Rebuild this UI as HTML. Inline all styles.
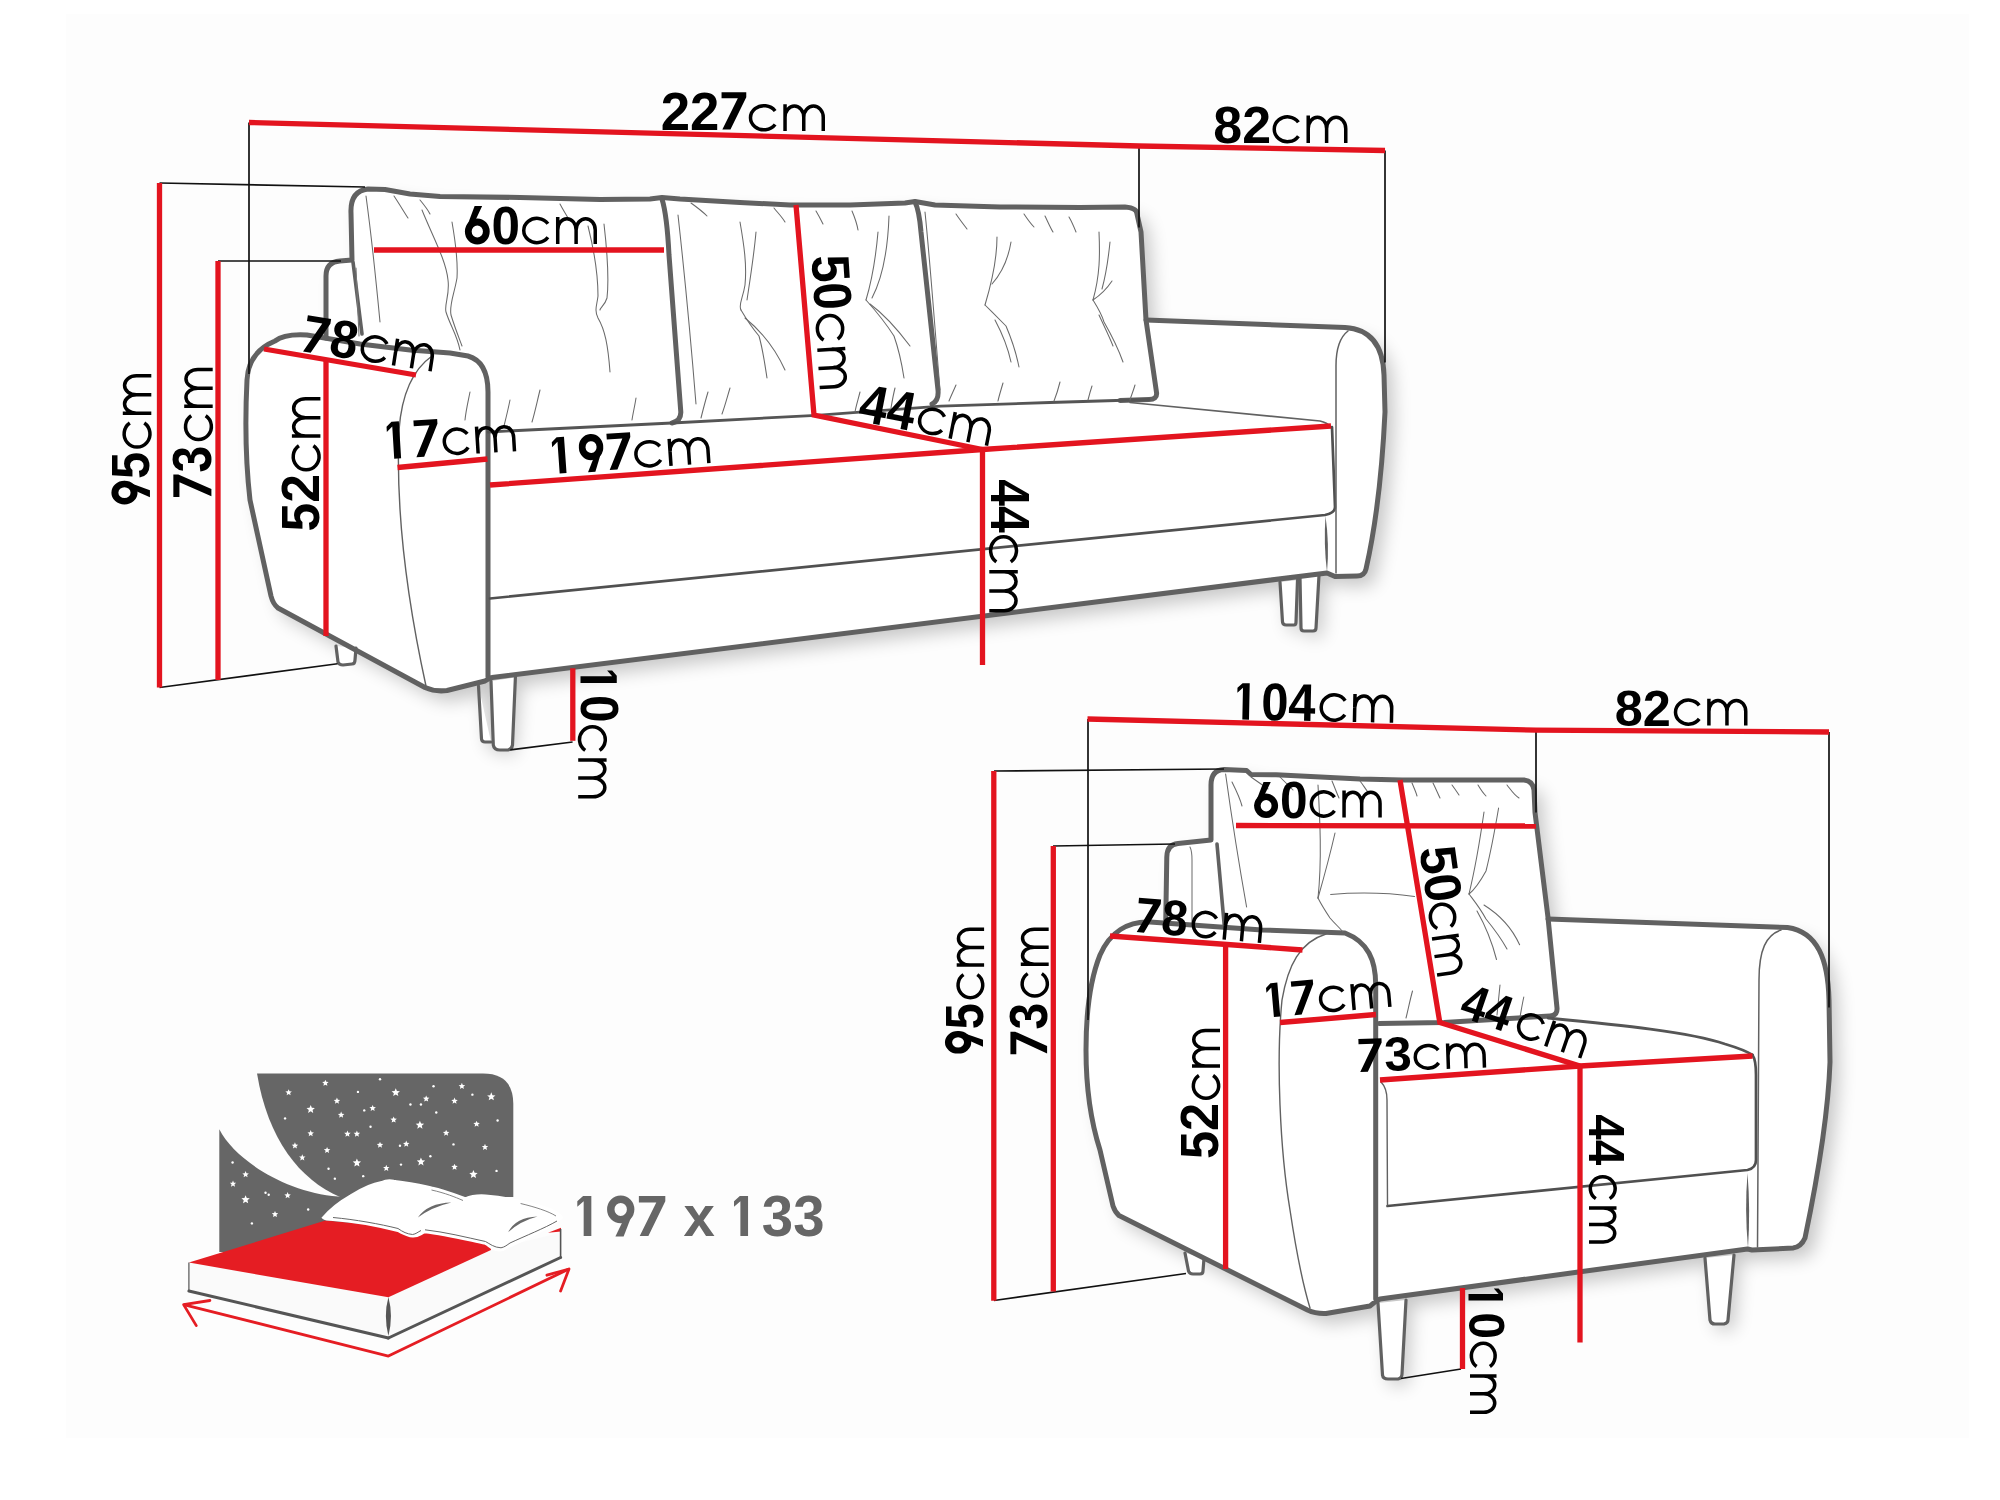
<!DOCTYPE html>
<html><head><meta charset="utf-8"><title>Sofa dimensions</title>
<style>
html,body{margin:0;padding:0;background:#fff;}
body{width:2000px;height:1500px;overflow:hidden;}
svg{display:block;font-family:"Liberation Sans",sans-serif;}
</style></head>
<body>
<svg width="2000" height="1500" viewBox="0 0 2000 1500">
<defs>
<filter id="sh" x="-10%" y="-10%" width="130%" height="130%">
<feGaussianBlur stdDeviation="9"/>
</filter>
</defs>
<rect x="0" y="0" width="2000" height="1500" fill="#fff"/>
<rect x="66" y="14" width="1903" height="1424" fill="#fdfdfd"/>
<g filter="url(#sh)" opacity="0.21"><path d="M275,341 C258,348 248,360 247,380 C245,420 246,465 250,500 L271,596 Q273,604 278,608 L425,687.5 Q435,692 447,690.5 L485,681 L492,677.5 L1327,573 L1335,576.5 L1357,576 Q1364.5,576 1366,569 C1376,525 1382,475 1385,412 L1384,375 C1383,345 1370,329 1345,327.5 L1146,320 L1141,232 L1137,214 Q1137,208 1125,207 L1000,207 L935,205 L915,201.5 L850,205 L790,205 L740,202.5 L680,199 L662,197.5 L600,199.5 L440,196.5 L410,194 L385,189.5 L368,189 Q350,191 351,213 L352,260 L340,261 Q326,262 326,276 L326,338 L307,335 Z" transform="translate(9 10)" fill="#000"/><path d="M1280,582 L1283,625 L1296,625 L1297,580 Z M1300,577 L1301,631 L1316,631 L1319,575 Z M478,686 L482,742 L508,750 L515,677 Z" transform="translate(6 6)" fill="#000"/></g>
<path d="M275,341 C258,348 248,360 247,380 C245,420 246,465 250,500 L271,596 Q273,604 278,608 L425,687.5 Q435,692 447,690.5 L485,681 L492,677.5 L1327,573 L1335,576.5 L1357,576 Q1364.5,576 1366,569 C1376,525 1382,475 1385,412 L1384,375 C1383,345 1370,329 1345,327.5 L1146,320 L1141,232 L1137,214 Q1137,208 1125,207 L1000,207 L935,205 L915,201.5 L850,205 L790,205 L740,202.5 L680,199 L662,197.5 L600,199.5 L440,196.5 L410,194 L385,189.5 L368,189 Q350,191 351,213 L352,260 L340,261 Q326,262 326,276 L326,338 L307,335 Z" fill="#fff" stroke="none"/>
<path d="M336,646 L338,662 Q339,665 343,665 L352,664 Q355,664 355,660 L356,648" fill="#fff" stroke="#616161" stroke-width="3.2" stroke-linecap="round" stroke-linejoin="round" />
<path d="M478.5,686 L481.5,739 Q482,742 485,742 L491,742" fill="#fff" stroke="#616161" stroke-width="3.2" stroke-linecap="round" stroke-linejoin="round" />
<path d="M491,681 L493.3,745 Q494,750 500,750 L508,750 Q512,749 512.5,745 L515.4,677.4" fill="#fff" stroke="#616161" stroke-width="3.2" stroke-linecap="round" stroke-linejoin="round" />
<path d="M1280,582 L1282.5,622 Q1283,625 1286,625 L1294,625 Q1296,625 1296,622 L1297.5,580" fill="#fff" stroke="#616161" stroke-width="3.2" stroke-linecap="round" stroke-linejoin="round" />
<path d="M1300,577.5 L1301,628 Q1301,631 1304,631 L1313,631 Q1316,631 1316,628 L1319,575" fill="#fff" stroke="#616161" stroke-width="3.2" stroke-linecap="round" stroke-linejoin="round" />
<path d="M488,677 L488,392 C488,372 482,360 468,356 L450,353 L410,350 L360,344 L307,335 C290,334 280,337 275,341 C258,348 248,360 247,380 C245,420 246,465 250,500 L271,596 Q273,604 278,608 L425,687.5 Q435,692 447,690.5 L485,681 Q488,679 492,677.5 L1327,573 L1335,576.5 L1357,576 Q1364.5,576 1366,569 C1376,525 1382,475 1385,412 L1384,375 C1383,345 1370,329 1345,327.5 L1146,320" fill="none" stroke="#616161" stroke-width="5" stroke-linecap="round" stroke-linejoin="round" />
<path d="M326,338 L326,276 Q326,262 340,261 L352,260 L351,213 Q350,191 368,189 L385,189.5 L410,194 L440,196.5 L520,197.5 L600,199.5 L650,199 L662,197.5 L680,199 L740,202.5 L790,205 L850,205 L905,203 L915,201.5 L935,205 L1000,207 L1080,207.5 L1125,207 Q1137,208 1137,214 L1141,232 L1146,320 L1156.6,393 Q1157,399.5 1149,399.5 L1120,400.5" fill="none" stroke="#616161" stroke-width="5" stroke-linecap="round" stroke-linejoin="round" />
<path d="M662,199 C666,212 668,235 669,255 L680.8,412 Q681,421 672,423" fill="none" stroke="#616161" stroke-width="5" stroke-linecap="round" stroke-linejoin="round" />
<path d="M915,202 C919,210 920,220 921,232 L938,390 Q939,401 932,404" fill="none" stroke="#616161" stroke-width="5" stroke-linecap="round" stroke-linejoin="round" />
<path d="M353,262 L362,334" fill="none" stroke="#616161" stroke-width="3.6" stroke-linecap="round" stroke-linejoin="round" />
<path d="M356,268 L359,336" fill="none" stroke="#777" stroke-width="1.1" stroke-linecap="round" stroke-linejoin="round" />
<path d="M488,432 L672,423 L816,415.3 L940.8,406.2 L1050,402.5 L1149,399.5" fill="none" stroke="#555" stroke-width="2.8" stroke-linecap="round" stroke-linejoin="round" />
<path d="M1130,402.5 L1320,421 Q1327,422.5 1331,427" fill="none" stroke="#616161" stroke-width="1.6" stroke-linecap="round" stroke-linejoin="round" />
<path d="M1332,427 L1335,507 Q1335,513 1325,515 L490,598.5" fill="none" stroke="#505050" stroke-width="2.7" stroke-linecap="round" stroke-linejoin="round" />
<path d="M1325.5,516 Q1329.5,544 1327,572 Q1323.5,544 1325.5,516 Z" fill="#616161"/>
<path d="M1348,331 C1340,337 1336,350 1336,366 L1336,573" fill="none" stroke="#616161" stroke-width="1.5" stroke-linecap="round" stroke-linejoin="round" />
<path d="M432,356 C415,368 402,390 399,430 C396,500 405,590 426,686" fill="none" stroke="#616161" stroke-width="1.4" stroke-linecap="round" stroke-linejoin="round" />
<path d="M366,196 C372,240 376,280 380,322" fill="none" stroke="#6a6a6a" stroke-width="1.05" stroke-linecap="round" stroke-linejoin="round" />
<path d="M394,196 C400,205 404,212 408,218" fill="none" stroke="#6a6a6a" stroke-width="1.05" stroke-linecap="round" stroke-linejoin="round" />
<path d="M422,210 C432,235 446,260 448,280 C450,295 444,305 446,312 C450,325 457,335 460,350" fill="none" stroke="#6a6a6a" stroke-width="1.05" stroke-linecap="round" stroke-linejoin="round" />
<path d="M452,222 C456,245 458,262 457,278 C454,295 449,305 451,315 C455,328 459,338 462,346" fill="none" stroke="#6a6a6a" stroke-width="1.05" stroke-linecap="round" stroke-linejoin="round" />
<path d="M560,204 C563,210 566,214 568,218" fill="none" stroke="#6a6a6a" stroke-width="1.05" stroke-linecap="round" stroke-linejoin="round" />
<path d="M588,226 C594,250 598,275 598,296 C597,305 594,310 598,318 C605,330 608,345 610,372" fill="none" stroke="#6a6a6a" stroke-width="1.05" stroke-linecap="round" stroke-linejoin="round" />
<path d="M604,224 C607,250 609,280 607,298 C605,305 600,308 600,310" fill="none" stroke="#6a6a6a" stroke-width="1.05" stroke-linecap="round" stroke-linejoin="round" />
<path d="M540,390 C537,402 535,412 532,422" fill="none" stroke="#6a6a6a" stroke-width="1.05" stroke-linecap="round" stroke-linejoin="round" />
<path d="M510,400 C508,410 506,418 504,426" fill="none" stroke="#6a6a6a" stroke-width="1.05" stroke-linecap="round" stroke-linejoin="round" />
<path d="M636,398 C635,405 633,413 632,420" fill="none" stroke="#6a6a6a" stroke-width="1.05" stroke-linecap="round" stroke-linejoin="round" />
<path d="M470,392 C468,402 466,410 465,420" fill="none" stroke="#6a6a6a" stroke-width="1.05" stroke-linecap="round" stroke-linejoin="round" />
<path d="M420,200 C425,206 428,210 430,214" fill="none" stroke="#6a6a6a" stroke-width="1.05" stroke-linecap="round" stroke-linejoin="round" />
<path d="M691,203 C698,208 703,212 707,216" fill="none" stroke="#6a6a6a" stroke-width="1.05" stroke-linecap="round" stroke-linejoin="round" />
<path d="M774,208 C778,213 782,217 785,222" fill="none" stroke="#6a6a6a" stroke-width="1.05" stroke-linecap="round" stroke-linejoin="round" />
<path d="M816,211 C819,216 821,220 823,224" fill="none" stroke="#6a6a6a" stroke-width="1.05" stroke-linecap="round" stroke-linejoin="round" />
<path d="M852,211 C855,218 857,224 858,230" fill="none" stroke="#6a6a6a" stroke-width="1.05" stroke-linecap="round" stroke-linejoin="round" />
<path d="M740,222 C744,245 747,265 745,285 C743,298 738,305 741,310" fill="none" stroke="#6a6a6a" stroke-width="1.05" stroke-linecap="round" stroke-linejoin="round" />
<path d="M756,232 C754,255 750,280 747,300" fill="none" stroke="#6a6a6a" stroke-width="1.05" stroke-linecap="round" stroke-linejoin="round" />
<path d="M741,310 C748,322 754,330 759,336 C763,350 765,365 767,378" fill="none" stroke="#6a6a6a" stroke-width="1.05" stroke-linecap="round" stroke-linejoin="round" />
<path d="M745,318 C760,330 775,348 785,370" fill="none" stroke="#6a6a6a" stroke-width="1.05" stroke-linecap="round" stroke-linejoin="round" />
<path d="M878,232 C876,255 872,280 866,300" fill="none" stroke="#6a6a6a" stroke-width="1.05" stroke-linecap="round" stroke-linejoin="round" />
<path d="M889,216 C888,245 884,275 872,298" fill="none" stroke="#6a6a6a" stroke-width="1.05" stroke-linecap="round" stroke-linejoin="round" />
<path d="M866,300 C875,310 885,322 894,336 C899,350 902,365 904,378" fill="none" stroke="#6a6a6a" stroke-width="1.05" stroke-linecap="round" stroke-linejoin="round" />
<path d="M870,304 C885,315 898,330 910,346" fill="none" stroke="#6a6a6a" stroke-width="1.05" stroke-linecap="round" stroke-linejoin="round" />
<path d="M730,388 C727,398 725,406 722,414" fill="none" stroke="#6a6a6a" stroke-width="1.05" stroke-linecap="round" stroke-linejoin="round" />
<path d="M708,392 C705,402 703,410 701,418" fill="none" stroke="#6a6a6a" stroke-width="1.05" stroke-linecap="round" stroke-linejoin="round" />
<path d="M860,392 C858,400 856,406 855,412" fill="none" stroke="#6a6a6a" stroke-width="1.05" stroke-linecap="round" stroke-linejoin="round" />
<path d="M895,388 C893,396 892,402 891,408" fill="none" stroke="#6a6a6a" stroke-width="1.05" stroke-linecap="round" stroke-linejoin="round" />
<path d="M678,215 C683,260 690,330 696,404" fill="none" stroke="#6a6a6a" stroke-width="1.05" stroke-linecap="round" stroke-linejoin="round" />
<path d="M956,214 C960,220 964,225 967,229" fill="none" stroke="#6a6a6a" stroke-width="1.05" stroke-linecap="round" stroke-linejoin="round" />
<path d="M1024,214 C1028,220 1031,224 1034,227" fill="none" stroke="#6a6a6a" stroke-width="1.05" stroke-linecap="round" stroke-linejoin="round" />
<path d="M1045,216 C1048,222 1050,227 1053,232" fill="none" stroke="#6a6a6a" stroke-width="1.05" stroke-linecap="round" stroke-linejoin="round" />
<path d="M1069,217 C1072,222 1074,227 1076,232" fill="none" stroke="#6a6a6a" stroke-width="1.05" stroke-linecap="round" stroke-linejoin="round" />
<path d="M997,237 C997,255 994,275 985,305" fill="none" stroke="#6a6a6a" stroke-width="1.05" stroke-linecap="round" stroke-linejoin="round" />
<path d="M1011,242 C1008,260 1000,275 992,284" fill="none" stroke="#6a6a6a" stroke-width="1.05" stroke-linecap="round" stroke-linejoin="round" />
<path d="M985,305 C992,312 1000,320 1006,326 C1012,340 1016,352 1019,367" fill="none" stroke="#6a6a6a" stroke-width="1.05" stroke-linecap="round" stroke-linejoin="round" />
<path d="M995,320 C1003,335 1008,348 1011,362" fill="none" stroke="#6a6a6a" stroke-width="1.05" stroke-linecap="round" stroke-linejoin="round" />
<path d="M1099,232 C1100,255 1100,275 1093,300" fill="none" stroke="#6a6a6a" stroke-width="1.05" stroke-linecap="round" stroke-linejoin="round" />
<path d="M1110,242 C1108,262 1105,278 1102,289" fill="none" stroke="#6a6a6a" stroke-width="1.05" stroke-linecap="round" stroke-linejoin="round" />
<path d="M1112,281 C1106,290 1099,296 1093,300" fill="none" stroke="#6a6a6a" stroke-width="1.05" stroke-linecap="round" stroke-linejoin="round" />
<path d="M1093,300 C1098,308 1102,315 1104,322 C1112,336 1118,348 1123,362" fill="none" stroke="#6a6a6a" stroke-width="1.05" stroke-linecap="round" stroke-linejoin="round" />
<path d="M1099,315 C1105,328 1110,338 1113,346" fill="none" stroke="#6a6a6a" stroke-width="1.05" stroke-linecap="round" stroke-linejoin="round" />
<path d="M956,385 C953,392 951,396 949,401" fill="none" stroke="#6a6a6a" stroke-width="1.05" stroke-linecap="round" stroke-linejoin="round" />
<path d="M1003,383 C1001,390 999,396 998,401" fill="none" stroke="#6a6a6a" stroke-width="1.05" stroke-linecap="round" stroke-linejoin="round" />
<path d="M1060,382 C1058,390 1056,396 1054,401" fill="none" stroke="#6a6a6a" stroke-width="1.05" stroke-linecap="round" stroke-linejoin="round" />
<path d="M1092,386 C1090,392 1089,396 1088,400" fill="none" stroke="#6a6a6a" stroke-width="1.05" stroke-linecap="round" stroke-linejoin="round" />
<path d="M1135,385 C1133,392 1131,396 1130,400" fill="none" stroke="#6a6a6a" stroke-width="1.05" stroke-linecap="round" stroke-linejoin="round" />
<path d="M925,212 C930,260 935,330 940,390" fill="none" stroke="#6a6a6a" stroke-width="1.05" stroke-linecap="round" stroke-linejoin="round" />
<g filter="url(#sh)" opacity="0.21"><path d="M1150,922 C1128,921 1110,932 1100,955 C1090,980 1086,1010 1086,1050 C1086,1090 1092,1125 1100,1150 L1113,1206 Q1115,1212 1119,1215.5 L1307.5,1310 Q1316,1314 1326,1313.5 L1370,1306 L1378,1299 L1747.5,1249 L1752,1250 L1793,1248 Q1801,1247 1805,1238 C1815,1190 1828,1120 1830,1062 L1829,1000 C1828,960 1818,932 1787.5,927.5 L1548,919 L1535,812.5 L1534,790 Q1533,781 1524,780 L1402,780 L1360,778.9 L1276,774.7 L1251,774.5 L1246.6,770.5 L1224,769.5 Q1211,770 1211,785 L1211,840 L1178,843.5 Q1167,844.5 1166.8,857 L1165.7,924 Z" transform="translate(9 10)" fill="#000"/><path d="M1378,1303 L1383,1379 L1402,1379 L1406,1300 Z M1705,1258 L1710,1324 L1728,1324 L1734,1255 Z" transform="translate(6 6)" fill="#000"/></g>
<path d="M1150,922 C1128,921 1110,932 1100,955 C1090,980 1086,1010 1086,1050 C1086,1090 1092,1125 1100,1150 L1113,1206 Q1115,1212 1119,1215.5 L1307.5,1310 Q1316,1314 1326,1313.5 L1370,1306 L1378,1299 L1747.5,1249 L1752,1250 L1793,1248 Q1801,1247 1805,1238 C1815,1190 1828,1120 1830,1062 L1829,1000 C1828,960 1818,932 1787.5,927.5 L1548,919 L1535,812.5 L1534,790 Q1533,781 1524,780 L1402,780 L1360,778.9 L1276,774.7 L1251,774.5 L1246.6,770.5 L1224,769.5 Q1211,770 1211,785 L1211,840 L1178,843.5 Q1167,844.5 1166.8,857 L1165.7,924 Z" fill="#fff" stroke="none"/>
<path d="M1185,1253 L1188.5,1271 Q1189.5,1274 1193,1274 L1200,1274 Q1203,1274 1203,1271 L1204,1258" fill="#fff" stroke="#616161" stroke-width="3.2" stroke-linecap="round" stroke-linejoin="round" />
<path d="M1378,1303 L1382.5,1375 Q1383,1379 1388,1379 L1398,1379 Q1402,1378 1402,1374 L1406,1300" fill="#fff" stroke="#616161" stroke-width="3.2" stroke-linecap="round" stroke-linejoin="round" />
<path d="M1705,1258 L1710,1320 Q1711,1324 1715,1324 L1724,1324 Q1728,1323 1728,1320 L1734,1255" fill="#fff" stroke="#616161" stroke-width="3.2" stroke-linecap="round" stroke-linejoin="round" />
<path d="M1375.7,1299 L1375.7,985 C1375.7,960 1368,942 1345,933 L1262,930 L1150,922 C1128,921 1110,932 1100,955 C1090,980 1086,1010 1086,1050 C1086,1090 1092,1125 1100,1150 L1113,1206 Q1115,1212 1119,1215.5 L1307.5,1310 Q1316,1314 1326,1313.5 L1370,1306 Q1374,1302 1380,1299 L1747.5,1249 L1752,1250 L1793,1248 Q1801,1247 1805,1238 C1815,1190 1828,1120 1830,1062 L1829,1000 C1828,960 1818,932 1787.5,927.5 L1548,919" fill="none" stroke="#616161" stroke-width="5" stroke-linecap="round" stroke-linejoin="round" />
<path d="M1165.7,924 L1166.8,857 Q1167,844.5 1178,843.5 L1211,840 L1211,785 Q1211,770 1224,769.5 L1246.6,770.5 L1251,774.5 L1276,774.7 L1360,778.9 L1402,780 L1524,780 Q1533,781 1534,790 L1535,812.5 L1548,917.5 L1557,1008 Q1557.5,1015.5 1550,1016 L1444,1022.5 L1379,1023.5" fill="none" stroke="#616161" stroke-width="5" stroke-linecap="round" stroke-linejoin="round" />
<path d="M1548,1018 C1620,1025 1690,1032 1725,1044 Q1745,1050 1752.5,1055" fill="none" stroke="#555" stroke-width="2.8" stroke-linecap="round" stroke-linejoin="round" />
<path d="M1752.5,1055 Q1756,1060 1756,1075 L1756,1160 Q1756,1168 1747.5,1170 L1387.5,1206" fill="none" stroke="#505050" stroke-width="2.7" stroke-linecap="round" stroke-linejoin="round" />
<path d="M1381,1082 Q1387,1088 1387,1100 L1387.5,1205" fill="none" stroke="#616161" stroke-width="1.4" stroke-linecap="round" stroke-linejoin="round" />
<path d="M1747.5,1173 Q1750.5,1210 1748,1248 Q1744.5,1210 1747.5,1173 Z" fill="#616161"/>
<path d="M1781,930 C1766,935 1759,950 1759,980 L1757.5,1247" fill="none" stroke="#616161" stroke-width="1.5" stroke-linecap="round" stroke-linejoin="round" />
<path d="M1326,934 C1300,942 1288,965 1282,1000 C1276,1060 1280,1150 1290,1210 C1296,1250 1303,1285 1310,1308" fill="none" stroke="#616161" stroke-width="1.4" stroke-linecap="round" stroke-linejoin="round" />
<path d="M1217,844 L1224.5,928" fill="none" stroke="#616161" stroke-width="3.6" stroke-linecap="round" stroke-linejoin="round" />
<path d="M1190,847 Q1192,851 1192,860 L1192,926" fill="none" stroke="#777" stroke-width="1.1" stroke-linecap="round" stroke-linejoin="round" />
<path d="M1225.6,774 C1232,820 1240,870 1246.6,907" fill="none" stroke="#6a6a6a" stroke-width="1.05" stroke-linecap="round" stroke-linejoin="round" />
<path d="M1232,782 C1236,790 1240,798 1242,806" fill="none" stroke="#6a6a6a" stroke-width="1.05" stroke-linecap="round" stroke-linejoin="round" />
<path d="M1251,777 C1258,782 1264,786 1268,789" fill="none" stroke="#6a6a6a" stroke-width="1.05" stroke-linecap="round" stroke-linejoin="round" />
<path d="M1280,777 C1285,782 1289,786 1293,790" fill="none" stroke="#6a6a6a" stroke-width="1.05" stroke-linecap="round" stroke-linejoin="round" />
<path d="M1332,781 C1335,788 1337,794 1339,798" fill="none" stroke="#6a6a6a" stroke-width="1.05" stroke-linecap="round" stroke-linejoin="round" />
<path d="M1360,781 C1364,786 1366,790 1368,792" fill="none" stroke="#6a6a6a" stroke-width="1.05" stroke-linecap="round" stroke-linejoin="round" />
<path d="M1412,783 C1414,788 1416,792 1417,796" fill="none" stroke="#6a6a6a" stroke-width="1.05" stroke-linecap="round" stroke-linejoin="round" />
<path d="M1433,783 C1436,789 1438,794 1440,798" fill="none" stroke="#6a6a6a" stroke-width="1.05" stroke-linecap="round" stroke-linejoin="round" />
<path d="M1452,785 C1455,789 1457,792 1459,795" fill="none" stroke="#6a6a6a" stroke-width="1.05" stroke-linecap="round" stroke-linejoin="round" />
<path d="M1478,785 C1481,790 1484,794 1486,796" fill="none" stroke="#6a6a6a" stroke-width="1.05" stroke-linecap="round" stroke-linejoin="round" />
<path d="M1507,785 C1511,790 1514,795 1519,798" fill="none" stroke="#6a6a6a" stroke-width="1.05" stroke-linecap="round" stroke-linejoin="round" />
<path d="M1318,785 C1320,820 1322,860 1318,898" fill="none" stroke="#6a6a6a" stroke-width="1.05" stroke-linecap="round" stroke-linejoin="round" />
<path d="M1335,833 C1330,855 1326,870 1318,898" fill="none" stroke="#6a6a6a" stroke-width="1.05" stroke-linecap="round" stroke-linejoin="round" />
<path d="M1318,898 C1322,906 1326,912 1330,918 C1335,924 1340,928 1343,932" fill="none" stroke="#6a6a6a" stroke-width="1.05" stroke-linecap="round" stroke-linejoin="round" />
<path d="M1330.6,894.4 C1360,892 1390,893 1414.6,896.5" fill="none" stroke="#6a6a6a" stroke-width="1.05" stroke-linecap="round" stroke-linejoin="round" />
<path d="M1484,812 C1480,840 1476,865 1469,894" fill="none" stroke="#6a6a6a" stroke-width="1.05" stroke-linecap="round" stroke-linejoin="round" />
<path d="M1498.6,808 C1494,835 1490,855 1486,871 C1480,882 1474,890 1469,894" fill="none" stroke="#6a6a6a" stroke-width="1.05" stroke-linecap="round" stroke-linejoin="round" />
<path d="M1469,894 C1475,902 1480,908 1486,919 C1495,930 1502,940 1507,949" fill="none" stroke="#6a6a6a" stroke-width="1.05" stroke-linecap="round" stroke-linejoin="round" />
<path d="M1477,911 C1485,925 1492,942 1496.5,959.5" fill="none" stroke="#6a6a6a" stroke-width="1.05" stroke-linecap="round" stroke-linejoin="round" />
<path d="M1484,905 C1500,915 1512,928 1519.6,944.8" fill="none" stroke="#6a6a6a" stroke-width="1.05" stroke-linecap="round" stroke-linejoin="round" />
<path d="M1412.5,991 C1410,1000 1408,1010 1406,1018" fill="none" stroke="#6a6a6a" stroke-width="1.05" stroke-linecap="round" stroke-linejoin="round" />
<path d="M1523.8,997 C1522,1005 1521,1012 1520,1017" fill="none" stroke="#6a6a6a" stroke-width="1.05" stroke-linecap="round" stroke-linejoin="round" />
<path d="M1500,985 C1499,995 1498,1005 1497,1015" fill="none" stroke="#6a6a6a" stroke-width="1.05" stroke-linecap="round" stroke-linejoin="round" />
<path d="M257,1073.6 L483,1073.6 Q513.3,1073.6 513.3,1104 L513.3,1197 L340,1197 C300,1180 268,1140 257,1073.6 Z" fill="#666666"/>
<path d="M219.3,1129.3 C235,1160 285,1192 338,1196.5 L380,1197 L380,1252 L219.3,1252 Z" fill="#666666"/>
<path d="M325.40,1079.70 L326.30,1081.86 L328.63,1082.05 L326.85,1083.57 L327.40,1085.85 L325.40,1084.63 L323.40,1085.85 L323.94,1083.57 L322.16,1082.05 L324.50,1081.86 Z M288.65,1089.15 L289.55,1091.31 L291.88,1091.50 L290.10,1093.02 L290.65,1095.30 L288.65,1094.08 L286.65,1095.30 L287.19,1093.02 L285.41,1091.50 L287.75,1091.31 Z M395.75,1088.15 L396.91,1090.95 L399.93,1091.19 L397.63,1093.16 L398.33,1096.11 L395.75,1094.53 L393.16,1096.11 L393.86,1093.16 L391.56,1091.19 L394.58,1090.95 Z M461.89,1082.85 L462.79,1085.01 L465.13,1085.20 L463.35,1086.72 L463.89,1089.00 L461.89,1087.78 L459.90,1089.00 L460.44,1086.72 L458.66,1085.20 L460.99,1085.01 Z M491.29,1092.35 L492.46,1095.15 L495.48,1095.39 L493.18,1097.36 L493.88,1100.31 L491.29,1098.73 L488.71,1100.31 L489.41,1097.36 L487.11,1095.39 L490.13,1095.15 Z M336.95,1097.55 L337.85,1099.71 L340.18,1099.90 L338.40,1101.42 L338.95,1103.70 L336.95,1102.48 L334.95,1103.70 L335.49,1101.42 L333.71,1099.90 L336.05,1099.71 Z M426.19,1095.45 L427.09,1097.61 L429.43,1097.80 L427.65,1099.32 L428.19,1101.60 L426.19,1100.38 L424.20,1101.60 L424.74,1099.32 L422.96,1097.80 L425.30,1097.61 Z M454.54,1097.55 L455.44,1099.71 L457.78,1099.90 L456.00,1101.42 L456.54,1103.70 L454.54,1102.48 L452.55,1103.70 L453.09,1101.42 L451.31,1099.90 L453.64,1099.71 Z M310.70,1104.95 L311.86,1107.75 L314.88,1107.99 L312.58,1109.96 L313.28,1112.91 L310.70,1111.33 L308.11,1112.91 L308.81,1109.96 L306.51,1107.99 L309.53,1107.75 Z M372.65,1104.90 L373.55,1107.06 L375.88,1107.25 L374.10,1108.77 L374.64,1111.05 L372.65,1109.83 L370.65,1111.05 L371.19,1108.77 L369.41,1107.25 L371.75,1107.06 Z M341.15,1111.62 L342.05,1113.78 L344.38,1113.97 L342.60,1115.49 L343.15,1117.77 L341.15,1116.55 L339.15,1117.77 L339.69,1115.49 L337.91,1113.97 L340.25,1113.78 Z M393.65,1116.45 L394.54,1118.61 L396.88,1118.80 L395.10,1120.32 L395.64,1122.60 L393.65,1121.38 L391.65,1122.60 L392.19,1120.32 L390.41,1118.80 L392.75,1118.61 Z M419.90,1120.70 L421.06,1123.50 L424.08,1123.74 L421.78,1125.71 L422.48,1128.66 L419.90,1127.08 L417.31,1128.66 L418.01,1125.71 L415.71,1123.74 L418.73,1123.50 Z M476.59,1120.65 L477.49,1122.81 L479.83,1123.00 L478.05,1124.52 L478.59,1126.80 L476.59,1125.58 L474.60,1126.80 L475.14,1124.52 L473.36,1123.00 L475.69,1122.81 Z M310.70,1130.10 L311.60,1132.26 L313.93,1132.45 L312.15,1133.97 L312.70,1136.25 L310.70,1135.03 L308.70,1136.25 L309.24,1133.97 L307.46,1132.45 L309.80,1132.26 Z M347.45,1130.52 L348.35,1132.68 L350.68,1132.87 L348.90,1134.39 L349.44,1136.67 L347.45,1135.45 L345.45,1136.67 L345.99,1134.39 L344.21,1132.87 L346.55,1132.68 Z M356.90,1130.52 L357.80,1132.68 L360.13,1132.87 L358.35,1134.39 L358.89,1136.67 L356.90,1135.45 L354.90,1136.67 L355.44,1134.39 L353.66,1132.87 L356.00,1132.68 Z M446.14,1129.68 L447.04,1131.84 L449.38,1132.03 L447.60,1133.55 L448.14,1135.83 L446.14,1134.61 L444.15,1135.83 L444.69,1133.55 L442.91,1132.03 L445.25,1131.84 Z M294.95,1142.28 L295.85,1144.44 L298.18,1144.63 L296.40,1146.15 L296.95,1148.43 L294.95,1147.21 L292.95,1148.43 L293.49,1146.15 L291.71,1144.63 L294.05,1144.44 Z M327.08,1146.90 L327.98,1149.06 L330.31,1149.25 L328.53,1150.77 L329.08,1153.05 L327.08,1151.83 L325.08,1153.05 L325.62,1150.77 L323.84,1149.25 L326.18,1149.06 Z M380.00,1141.65 L380.90,1143.81 L383.23,1144.00 L381.45,1145.52 L381.99,1147.80 L380.00,1146.58 L378.00,1147.80 L378.54,1145.52 L376.76,1144.00 L379.10,1143.81 Z M406.25,1140.60 L407.14,1142.76 L409.48,1142.95 L407.70,1144.47 L408.24,1146.75 L406.25,1145.53 L404.25,1146.75 L404.79,1144.47 L403.01,1142.95 L405.35,1142.76 Z M484.99,1143.75 L485.89,1145.91 L488.23,1146.10 L486.45,1147.62 L486.99,1149.90 L484.99,1148.68 L483.00,1149.90 L483.54,1147.62 L481.76,1146.10 L484.09,1145.91 Z M302.30,1154.25 L303.20,1156.41 L305.53,1156.60 L303.75,1158.12 L304.30,1160.40 L302.30,1159.18 L300.30,1160.40 L300.84,1158.12 L299.06,1156.60 L301.40,1156.41 Z M356.90,1158.50 L358.06,1161.30 L361.08,1161.54 L358.78,1163.51 L359.48,1166.46 L356.90,1164.88 L354.31,1166.46 L355.01,1163.51 L352.71,1161.54 L355.73,1161.30 Z M420.94,1157.45 L422.11,1160.25 L425.13,1160.49 L422.83,1162.46 L423.53,1165.41 L420.94,1163.83 L418.36,1165.41 L419.06,1162.46 L416.76,1160.49 L419.78,1160.25 Z M386.30,1164.75 L387.19,1166.91 L389.53,1167.10 L387.75,1168.62 L388.29,1170.90 L386.30,1169.68 L384.30,1170.90 L384.84,1168.62 L383.06,1167.10 L385.40,1166.91 Z M454.54,1163.70 L455.44,1165.86 L457.78,1166.05 L456.00,1167.57 L456.54,1169.85 L454.54,1168.63 L452.55,1169.85 L453.09,1167.57 L451.31,1166.05 L453.64,1165.86 Z M473.44,1170.05 L474.61,1172.85 L477.63,1173.09 L475.33,1175.06 L476.03,1178.01 L473.44,1176.43 L470.86,1178.01 L471.56,1175.06 L469.26,1173.09 L472.28,1172.85 Z M245.60,1171.05 L246.50,1173.21 L248.83,1173.40 L247.05,1174.92 L247.60,1177.20 L245.60,1175.98 L243.60,1177.20 L244.14,1174.92 L242.36,1173.40 L244.70,1173.21 Z M233.00,1180.50 L233.90,1182.66 L236.23,1182.85 L234.45,1184.37 L235.00,1186.65 L233.00,1185.43 L231.00,1186.65 L231.54,1184.37 L229.77,1182.85 L232.10,1182.66 Z M245.60,1195.25 L246.76,1198.05 L249.78,1198.29 L247.48,1200.26 L248.18,1203.21 L245.60,1201.63 L243.01,1203.21 L243.72,1200.26 L241.41,1198.29 L244.43,1198.05 Z M287.60,1192.05 L288.50,1194.21 L290.83,1194.40 L289.05,1195.92 L289.60,1198.20 L287.60,1196.98 L285.60,1198.20 L286.14,1195.92 L284.36,1194.40 L286.70,1194.21 Z M275.00,1210.95 L275.90,1213.11 L278.23,1213.30 L276.45,1214.82 L277.00,1217.10 L275.00,1215.88 L273.00,1217.10 L273.54,1214.82 L271.76,1213.30 L274.10,1213.11 Z" fill="#fff"/>
<circle cx="380.00" cy="1079.32" r="1.2" fill="#fff"/>
<circle cx="357.95" cy="1091.92" r="1.2" fill="#fff"/>
<circle cx="433.54" cy="1086.25" r="1.2" fill="#fff"/>
<circle cx="472.39" cy="1094.65" r="1.2" fill="#fff"/>
<circle cx="410.45" cy="1104.52" r="1.2" fill="#fff"/>
<circle cx="420.94" cy="1104.52" r="1.2" fill="#fff"/>
<circle cx="364.25" cy="1110.40" r="1.2" fill="#fff"/>
<circle cx="436.27" cy="1112.50" r="1.2" fill="#fff"/>
<circle cx="285.08" cy="1118.38" r="1.2" fill="#fff"/>
<circle cx="370.55" cy="1126.78" r="1.2" fill="#fff"/>
<circle cx="497.59" cy="1120.48" r="1.2" fill="#fff"/>
<circle cx="453.49" cy="1144.42" r="1.2" fill="#fff"/>
<circle cx="399.95" cy="1145.68" r="1.2" fill="#fff"/>
<circle cx="430.39" cy="1156.18" r="1.2" fill="#fff"/>
<circle cx="328.55" cy="1168.78" r="1.2" fill="#fff"/>
<circle cx="401.00" cy="1164.58" r="1.2" fill="#fff"/>
<circle cx="363.20" cy="1176.13" r="1.2" fill="#fff"/>
<circle cx="334.85" cy="1178.65" r="1.2" fill="#fff"/>
<circle cx="496.54" cy="1170.88" r="1.2" fill="#fff"/>
<circle cx="232.58" cy="1162.48" r="1.2" fill="#fff"/>
<circle cx="265.55" cy="1192.72" r="1.2" fill="#fff"/>
<circle cx="268.70" cy="1194.82" r="1.2" fill="#fff"/>
<circle cx="308.18" cy="1209.52" r="1.2" fill="#fff"/>
<circle cx="251.90" cy="1223.38" r="1.2" fill="#fff"/>
<path d="M188.9,1262.6 L388.4,1297.3 L388.4,1339.3 L188.9,1292 Z" fill="#fafafa"/>
<path d="M388.4,1297.3 L491,1250 L560.6,1232.5 L560.6,1258.2 L388.4,1339.3 Z" fill="#fafafa"/>
<path d="M188.9,1262.6 L325.4,1220.6 L490,1236 L491,1250 L388.4,1297.3 Z" fill="#e51d23"/>
<path d="M548,1232.8 L561,1227.8 L561,1231.5 Z" fill="#e51d23"/>
<path d="M188.9,1262.6 L188.9,1292" stroke="#555" stroke-width="1.2" fill="none"/>
<path d="M560.6,1229 L560.6,1258.2" stroke="#555" stroke-width="1.6" fill="none"/>
<path d="M188.9,1291 L388.4,1338" stroke="#555" stroke-width="3" fill="none" stroke-linecap="round"/>
<path d="M388.4,1338 L560.6,1257.5" stroke="#555" stroke-width="3" fill="none" stroke-linecap="round"/>
<path d="M388.4,1297 Q393.5,1316 388.4,1336 Q383.3,1316 388.4,1297 Z" fill="#555"/>
<path d="M323.5,1217.7 C330,1210 340,1202 350.5,1196 C360,1190 372,1184 381.6,1182.5 C386,1180.5 390,1180.5 393.7,1181.2 C405,1183 420,1185 431.5,1188 C445,1191 455,1195 465.3,1198.8 C472,1196 478,1195.5 485.5,1196 C497,1197 510,1199 520.6,1201.5 C532,1204 545,1207 553,1211 C557,1213 560,1215 561.5,1217.5 C558,1221 555,1223 548,1227 C535,1234 520,1242 507,1247 C504,1249.5 500,1250.5 496,1249.5 C491,1248.5 489,1245 485.5,1243.3 C465,1239 445,1234 424.8,1231.8 C421,1233 418,1236.5 412.6,1236 C407,1235.5 405,1234 398,1230.5 C380,1226 355,1221 333,1219.5 C328,1219.5 325,1219 323.5,1217.7 Z" fill="#fff" stroke="#fff" stroke-width="3"/>
<path d="M333,1217.5 C355,1219.5 380,1224 398,1228.5 C403,1232 407,1234 412.6,1234.5 C416,1234 418,1232 421,1230.5" fill="none" stroke="#666" stroke-width="1"/>
<path d="M425,1229.8 C445,1232 465,1237 485.5,1241.5 C490,1244 494,1247.5 501,1247.8 C505,1247 507,1245 510,1243 C525,1236 545,1228 557,1221" fill="none" stroke="#666" stroke-width="1"/>
<path d="M431.5,1190 C445,1193 455,1197 463,1200.5" fill="none" stroke="#777" stroke-width="0.9"/>
<path d="M520.6,1203.5 C535,1207 548,1211 556,1216" fill="none" stroke="#777" stroke-width="0.9"/>
<path d="M417.8,1217.5 Q428,1203 451.4,1202.5 Q432,1207 417.8,1217.5 Z" fill="#6a6a6a"/>
<path d="M508.1,1232.2 Q516,1217 537.5,1216.4 Q520,1221 508.1,1232.2 Z" fill="#6a6a6a"/>
<polyline points="183.6,1304.6 388.4,1356.1 569,1269" fill="none" stroke="#e51d23" stroke-width="2.8" stroke-linejoin="round"/>
<polyline points="209.9,1300.5 183.6,1304.6 196.3,1325.6" fill="none" stroke="#e51d23" stroke-width="2.8" stroke-linecap="round" stroke-linejoin="round"/>
<polyline points="546.9,1275.2 569,1269 560.6,1291" fill="none" stroke="#e51d23" stroke-width="2.8" stroke-linecap="round" stroke-linejoin="round"/>
<g transform="translate(577.30 1236.00) rotate(0.00) scale(0.9715 1) translate(-3.66 0)" fill="#666"><path d="M10.21,-39.92 L18.10,-39.92 L18.10,0.00 L10.21,0.00 L10.21,-34.81 L3.66,-29.30 L3.66,-34.81 L9.63,-39.92 Z"/><path fill-rule="evenodd" d="M62.38,-26.57 A14.04,13.93 0 1 0 34.30,-26.57 A14.04,13.93 0 1 0 62.38,-26.57 Z M54.72,-26.57 A6.38,6.50 0 1 1 41.96,-26.57 A6.38,6.50 0 1 1 54.72,-26.57 Z"/><path d="M62.38,-27.15 L51.36,0.58 L42.89,0.58 L55.19,-24.14 Z"/><path d="M67.04,-39.92 L94.25,-39.92 L94.25,-34.70 L76.84,0.00 L67.91,0.00 L84.96,-33.54 L67.04,-33.54 Z"/><path d="M171.53,-39.92 L179.42,-39.92 L179.42,0.00 L171.53,0.00 L171.53,-34.81 L164.98,-29.30 L164.98,-34.81 L170.95,-39.92 Z"/><text y="0" font-weight="700" font-size="58.02"><tspan x="112.93">x</tspan><tspan x="193.59">3</tspan><tspan x="225.86">3</tspan></text></g>
<line x1="249" y1="122.5" x2="249" y2="374" stroke="#111" stroke-width="1.7" stroke-linecap="butt"/>
<line x1="159.5" y1="183" x2="365" y2="187" stroke="#111" stroke-width="1.7" stroke-linecap="butt"/>
<line x1="218" y1="261" x2="341" y2="261" stroke="#111" stroke-width="1.7" stroke-linecap="butt"/>
<line x1="159.5" y1="687.5" x2="337.5" y2="663.75" stroke="#111" stroke-width="1.7" stroke-linecap="butt"/>
<line x1="1139" y1="146" x2="1139" y2="227.5" stroke="#111" stroke-width="1.7" stroke-linecap="butt"/>
<line x1="1385" y1="150.5" x2="1385" y2="362.5" stroke="#111" stroke-width="1.7" stroke-linecap="butt"/>
<line x1="510.3" y1="749.9" x2="572.6" y2="742" stroke="#111" stroke-width="1.7" stroke-linecap="butt"/>
<line x1="1088" y1="719" x2="1088" y2="1020" stroke="#111" stroke-width="1.7" stroke-linecap="butt"/>
<line x1="994" y1="771" x2="1224" y2="769" stroke="#111" stroke-width="1.7" stroke-linecap="butt"/>
<line x1="1053" y1="846" x2="1175" y2="844" stroke="#111" stroke-width="1.7" stroke-linecap="butt"/>
<line x1="994" y1="1300.5" x2="1186" y2="1273.5" stroke="#111" stroke-width="1.7" stroke-linecap="butt"/>
<line x1="1536" y1="730" x2="1536" y2="812.5" stroke="#111" stroke-width="1.7" stroke-linecap="butt"/>
<line x1="1829" y1="732" x2="1829" y2="1007.5" stroke="#111" stroke-width="1.7" stroke-linecap="butt"/>
<line x1="1401" y1="1378.5" x2="1461" y2="1369" stroke="#111" stroke-width="1.7" stroke-linecap="butt"/>
<polyline points="249,122.5 1139,146 1385,150.5" fill="none" stroke="#e3141f" stroke-width="5.3" stroke-linecap="butt" stroke-linejoin="miter"/>
<polyline points="159.5,183 159.5,687.5" fill="none" stroke="#e3141f" stroke-width="5.3" stroke-linecap="butt" stroke-linejoin="miter"/>
<polyline points="218,261 218,680" fill="none" stroke="#e3141f" stroke-width="5.3" stroke-linecap="butt" stroke-linejoin="miter"/>
<polyline points="374,250 664,250" fill="none" stroke="#e3141f" stroke-width="5.3" stroke-linecap="butt" stroke-linejoin="miter"/>
<polyline points="796,205 814,415 982.5,449.5" fill="none" stroke="#e3141f" stroke-width="5.3" stroke-linecap="butt" stroke-linejoin="miter"/>
<polyline points="490,485 982.5,449.5 1331,426" fill="none" stroke="#e3141f" stroke-width="5.3" stroke-linecap="butt" stroke-linejoin="miter"/>
<polyline points="982.5,449.5 982.5,665" fill="none" stroke="#e3141f" stroke-width="5.3" stroke-linecap="butt" stroke-linejoin="miter"/>
<polyline points="264,349 416,375" fill="none" stroke="#e3141f" stroke-width="5.3" stroke-linecap="butt" stroke-linejoin="miter"/>
<polyline points="326,361 326,636" fill="none" stroke="#e3141f" stroke-width="5.3" stroke-linecap="butt" stroke-linejoin="miter"/>
<polyline points="397.5,467.5 487.5,459" fill="none" stroke="#e3141f" stroke-width="5.3" stroke-linecap="butt" stroke-linejoin="miter"/>
<polyline points="572.8,668.3 572.8,740.8" fill="none" stroke="#e3141f" stroke-width="5.3" stroke-linecap="butt" stroke-linejoin="miter"/>
<polyline points="1087.5,719 1536,730.1 1829,732" fill="none" stroke="#e3141f" stroke-width="5.3" stroke-linecap="butt" stroke-linejoin="miter"/>
<polyline points="993.8,771 993.8,1300.7" fill="none" stroke="#e3141f" stroke-width="5.3" stroke-linecap="butt" stroke-linejoin="miter"/>
<polyline points="1053.3,846 1053.3,1291.5" fill="none" stroke="#e3141f" stroke-width="5.3" stroke-linecap="butt" stroke-linejoin="miter"/>
<polyline points="1236,825.5 1536,826" fill="none" stroke="#e3141f" stroke-width="5.3" stroke-linecap="butt" stroke-linejoin="miter"/>
<polyline points="1400,780 1439.8,1022.5 1580,1066" fill="none" stroke="#e3141f" stroke-width="5.3" stroke-linecap="butt" stroke-linejoin="miter"/>
<polyline points="1380,1080 1580,1066 1752.5,1056" fill="none" stroke="#e3141f" stroke-width="5.3" stroke-linecap="butt" stroke-linejoin="miter"/>
<polyline points="1580,1066 1580,1342.5" fill="none" stroke="#e3141f" stroke-width="5.3" stroke-linecap="butt" stroke-linejoin="miter"/>
<polyline points="1110,936 1302.5,950" fill="none" stroke="#e3141f" stroke-width="5.3" stroke-linecap="butt" stroke-linejoin="miter"/>
<polyline points="1225.6,945 1225.6,1269" fill="none" stroke="#e3141f" stroke-width="5.3" stroke-linecap="butt" stroke-linejoin="miter"/>
<polyline points="1280,1022.5 1376,1014.5" fill="none" stroke="#e3141f" stroke-width="5.3" stroke-linecap="butt" stroke-linejoin="miter"/>
<polyline points="1462.5,1288 1462.5,1369" fill="none" stroke="#e3141f" stroke-width="5.3" stroke-linecap="butt" stroke-linejoin="miter"/>
<g transform="translate(662.50 129.60) rotate(0.00) scale(0.9733 1) translate(-1.90 0)" fill="#000"><path d="M62.57,-37.26 L87.96,-37.26 L87.96,-32.38 L71.72,0.00 L63.38,0.00 L79.30,-31.30 L62.57,-31.30 Z"/><text y="0" font-weight="700" font-size="54.15"><tspan x="0.00">2</tspan><tspan x="30.12">2</tspan></text></g>
<path transform="translate(662.50 129.60) rotate(0.00) translate(86.25 1.50)" d="M26.38,-20.10 A13.47,12.03 0 1 0 26.38,-6.65 M36.29,0 L36.29,-26.75 M36.29,-13.91 C36.29,-20.12 40.41,-25.00 45.65,-25.00 C50.90,-25.00 55.01,-20.12 55.01,-13.91 L55.01,0 M55.01,-13.91 C55.01,-20.12 59.30,-25.00 64.76,-25.00 C70.21,-25.00 74.50,-20.12 74.50,-13.91 L74.50,0" fill="none" stroke="#000" stroke-width="3.50" stroke-linecap="butt"/>
<g transform="translate(1215.00 143.00) rotate(0.00) scale(1.0067 1) translate(-1.65 0)" fill="#000"><text y="0" font-weight="700" font-size="51.58"><tspan x="0.00">8</tspan><tspan x="28.68">2</tspan></text></g>
<path transform="translate(1215.00 143.00) rotate(0.00) translate(57.50 0.00)" d="M25.92,-20.69 A13.22,12.41 0 1 0 25.92,-6.81 M35.72,0 L35.72,-27.50 M35.72,-14.30 C35.72,-20.71 39.77,-25.75 44.92,-25.75 C50.07,-25.75 54.11,-20.71 54.11,-14.30 L54.11,0 M54.11,-14.30 C54.11,-20.71 58.32,-25.75 63.68,-25.75 C69.04,-25.75 73.25,-20.71 73.25,-14.30 L73.25,0" fill="none" stroke="#000" stroke-width="3.50" stroke-linecap="butt"/>
<g transform="translate(465.00 244.00) rotate(0.00) scale(0.9415 1) translate(-2.01 0)" fill="#000"><path fill-rule="evenodd" d="M1.91,-12.52 A13.17,13.07 0 1 0 28.26,-12.52 A13.17,13.07 0 1 0 1.91,-12.52 Z M9.09,-12.52 A5.99,6.10 0 1 1 21.07,-12.52 A5.99,6.10 0 1 1 9.09,-12.52 Z"/><path d="M1.91,-11.98 L12.25,-38.00 L20.20,-38.00 L8.66,-14.81 Z"/><text y="0" font-weight="700" font-size="54.44"><tspan x="30.28">0</tspan></text></g>
<path transform="translate(465.00 244.00) rotate(0.00) translate(57.00 0.00)" d="M25.92,-20.30 A13.22,12.16 0 1 0 25.92,-6.70 M35.72,0 L35.72,-27.00 M35.72,-14.04 C35.72,-20.32 39.77,-25.25 44.92,-25.25 C50.07,-25.25 54.11,-20.32 54.11,-14.04 L54.11,0 M54.11,-14.04 C54.11,-20.32 58.32,-25.25 63.68,-25.25 C69.04,-25.25 73.25,-20.32 73.25,-14.04 L73.25,0" fill="none" stroke="#000" stroke-width="3.50" stroke-linecap="butt"/>
<g transform="translate(302.30 351.40) rotate(8.80) scale(0.9451 1) translate(-2.28 0)" fill="#000"><path d="M2.28,-36.47 L27.14,-36.47 L27.14,-31.70 L11.24,0.00 L3.07,0.00 L18.66,-30.64 L2.28,-30.64 Z"/><text y="0" font-weight="700" font-size="53.01"><tspan x="29.48">8</tspan></text></g>
<path transform="translate(302.30 351.40) rotate(8.80) translate(57.00 0.00)" d="M25.56,-20.30 A13.02,12.16 0 1 0 25.56,-6.70 M35.27,0 L35.27,-27.00 M35.27,-14.04 C35.27,-20.32 39.26,-25.25 44.33,-25.25 C49.40,-25.25 53.39,-20.32 53.39,-14.04 L53.39,0 M53.39,-14.04 C53.39,-20.32 57.54,-25.25 62.82,-25.25 C68.10,-25.25 72.25,-20.32 72.25,-14.04 L72.25,0" fill="none" stroke="#000" stroke-width="3.50" stroke-linecap="butt"/>
<g transform="translate(388.50 459.00) rotate(-3.50) scale(0.9436 1) translate(-3.39 0)" fill="#000"><path d="M9.47,-37.00 L16.78,-37.00 L16.78,0.00 L9.47,0.00 L9.47,-32.27 L3.39,-27.16 L3.39,-32.27 L8.93,-37.00 Z"/><path d="M32.22,-37.00 L57.44,-37.00 L57.44,-32.16 L41.31,0.00 L33.03,0.00 L48.84,-31.08 L32.22,-31.08 Z"/></g>
<path transform="translate(388.50 459.00) rotate(-3.50) translate(55.00 0.00)" d="M25.19,-20.30 A12.82,12.16 0 1 0 25.19,-6.70 M34.82,0 L34.82,-27.00 M34.82,-14.04 C34.82,-20.32 38.75,-25.25 43.74,-25.25 C48.74,-25.25 52.67,-20.32 52.67,-14.04 L52.67,0 M52.67,-14.04 C52.67,-20.32 56.76,-25.25 61.96,-25.25 C67.16,-25.25 71.25,-20.32 71.25,-14.04 L71.25,0" fill="none" stroke="#000" stroke-width="3.50" stroke-linecap="butt"/>
<g transform="translate(554.00 474.00) rotate(-4.00) scale(0.9511 1) translate(-3.34 0)" fill="#000"><path d="M9.33,-36.47 L16.54,-36.47 L16.54,0.00 L9.33,0.00 L9.33,-31.81 L3.34,-26.77 L3.34,-31.81 L8.80,-36.47 Z"/><path fill-rule="evenodd" d="M56.99,-24.28 A12.83,12.72 0 1 0 31.34,-24.28 A12.83,12.72 0 1 0 56.99,-24.28 Z M50.00,-24.28 A5.83,5.94 0 1 1 38.33,-24.28 A5.83,5.94 0 1 1 50.00,-24.28 Z"/><path d="M56.99,-24.81 L46.92,0.53 L39.18,0.53 L50.42,-22.05 Z"/><path d="M61.24,-36.47 L86.10,-36.47 L86.10,-31.70 L70.20,0.00 L62.04,0.00 L77.62,-30.64 L61.24,-30.64 Z"/></g>
<path transform="translate(554.00 474.00) rotate(-4.00) translate(81.30 0.00)" d="M26.18,-20.30 A13.36,12.16 0 1 0 26.18,-6.70 M36.04,0 L36.04,-27.00 M36.04,-14.04 C36.04,-20.32 40.13,-25.25 45.33,-25.25 C50.53,-25.25 54.62,-20.32 54.62,-14.04 L54.62,0 M54.62,-14.04 C54.62,-20.32 58.87,-25.25 64.28,-25.25 C69.70,-25.25 73.95,-20.32 73.95,-14.04 L73.95,0" fill="none" stroke="#000" stroke-width="3.50" stroke-linecap="butt"/>
<g transform="translate(857.60 420.60) rotate(11.00) scale(0.9241 1) translate(-0.82 0)" fill="#000"><text y="0" font-weight="700" font-size="54.51"><tspan x="0.00">4</tspan><tspan x="30.31">4</tspan></text></g>
<path transform="translate(857.60 420.60) rotate(11.00) translate(59.00 0.00)" d="M25.56,-20.30 A13.02,12.16 0 1 0 25.56,-6.70 M35.27,0 L35.27,-27.00 M35.27,-14.04 C35.27,-20.32 39.26,-25.25 44.33,-25.25 C49.40,-25.25 53.39,-20.32 53.39,-14.04 L53.39,0 M53.39,-14.04 C53.39,-20.32 57.54,-25.25 62.82,-25.25 C68.10,-25.25 72.25,-20.32 72.25,-14.04 L72.25,0" fill="none" stroke="#000" stroke-width="3.50" stroke-linecap="butt"/>
<g transform="translate(811.50 257.60) rotate(86.40) scale(0.9224 1) translate(-1.66 0)" fill="#000"><text y="0" font-weight="700" font-size="53.58"><tspan x="0.00">5</tspan><tspan x="29.80">0</tspan></text></g>
<path transform="translate(811.50 257.60) rotate(86.40) translate(57.20 0.00)" d="M25.85,-21.08 A13.18,12.67 0 1 0 25.85,-6.92 M35.63,0 L35.63,-28.00 M35.63,-14.56 C35.63,-21.11 39.67,-26.25 44.80,-26.25 C49.93,-26.25 53.97,-21.11 53.97,-14.56 L53.97,0 M53.97,-14.56 C53.97,-21.11 58.17,-26.25 63.51,-26.25 C68.85,-26.25 73.05,-21.11 73.05,-14.56 L73.05,0" fill="none" stroke="#000" stroke-width="3.50" stroke-linecap="butt"/>
<g transform="translate(990.50 480.00) rotate(90.00) scale(0.8591 1) translate(-0.84 0)" fill="#000"><text y="0" font-weight="700" font-size="55.96"><tspan x="0.00">4</tspan><tspan x="31.12">4</tspan></text></g>
<path transform="translate(990.50 480.00) rotate(90.00) translate(55.00 1.20)" d="M26.84,-21.48 A13.72,12.93 0 1 0 26.84,-7.02 M36.86,0 L36.86,-28.50 M36.86,-14.82 C36.86,-21.50 41.05,-26.75 46.39,-26.75 C51.72,-26.75 55.92,-21.50 55.92,-14.82 L55.92,0 M55.92,-14.82 C55.92,-21.50 60.28,-26.75 65.83,-26.75 C71.39,-26.75 75.75,-21.50 75.75,-14.82 L75.75,0" fill="none" stroke="#000" stroke-width="3.50" stroke-linecap="butt"/>
<g transform="translate(149.40 504.50) rotate(-90.00) scale(0.8983 1) translate(-1.91 0)" fill="#000"><path fill-rule="evenodd" d="M28.26,-24.93 A13.17,13.07 0 1 0 1.91,-24.93 A13.17,13.07 0 1 0 28.26,-24.93 Z M21.07,-24.93 A5.99,6.10 0 1 1 9.09,-24.93 A5.99,6.10 0 1 1 21.07,-24.93 Z"/><path d="M28.26,-25.48 L17.91,0.54 L9.96,0.54 L21.50,-22.65 Z"/><text y="0" font-weight="700" font-size="54.44"><tspan x="30.28">5</tspan></text></g>
<path transform="translate(149.40 504.50) rotate(-90.00) translate(55.70 1.90)" d="M25.85,-21.48 A13.18,12.93 0 1 0 25.85,-7.02 M35.63,0 L35.63,-28.50 M35.63,-14.82 C35.63,-21.50 39.67,-26.75 44.80,-26.75 C49.93,-26.75 53.97,-21.50 53.97,-14.82 L53.97,0 M53.97,-14.82 C53.97,-21.50 58.17,-26.75 63.51,-26.75 C68.85,-26.75 73.05,-21.50 73.05,-14.82 L73.05,0" fill="none" stroke="#000" stroke-width="3.50" stroke-linecap="butt"/>
<g transform="translate(211.40 497.00) rotate(-90.00) scale(0.8665 1) translate(-2.38 0)" fill="#000"><path d="M2.38,-38.05 L28.31,-38.05 L28.31,-33.07 L11.72,0.00 L3.21,0.00 L19.47,-31.96 L2.38,-31.96 Z"/><text y="0" font-weight="700" font-size="55.30"><tspan x="30.76">3</tspan></text></g>
<path transform="translate(211.40 497.00) rotate(-90.00) translate(55.80 1.30)" d="M25.38,-21.48 A12.92,12.93 0 1 0 25.38,-7.02 M35.05,0 L35.05,-28.50 M35.05,-14.82 C35.05,-21.50 39.00,-26.75 44.04,-26.75 C49.07,-26.75 53.03,-21.50 53.03,-14.82 L53.03,0 M53.03,-14.82 C53.03,-21.50 57.15,-26.75 62.39,-26.75 C67.63,-26.75 71.75,-21.50 71.75,-14.82 L71.75,0" fill="none" stroke="#000" stroke-width="3.50" stroke-linecap="butt"/>
<g transform="translate(319.10 529.80) rotate(-90.00) scale(0.9493 1) translate(-1.69 0)" fill="#000"><text y="0" font-weight="700" font-size="54.44"><tspan x="0.00">5</tspan><tspan x="30.28">2</tspan></text></g>
<path transform="translate(319.10 529.80) rotate(-90.00) translate(58.20 1.30)" d="M25.81,-21.48 A13.16,12.93 0 1 0 25.81,-7.02 M35.59,0 L35.59,-28.50 M35.59,-14.82 C35.59,-21.50 39.62,-26.75 44.74,-26.75 C49.87,-26.75 53.90,-21.50 53.90,-14.82 L53.90,0 M53.90,-14.82 C53.90,-21.50 58.09,-26.75 63.42,-26.75 C68.76,-26.75 72.95,-21.50 72.95,-14.82 L72.95,0" fill="none" stroke="#000" stroke-width="3.50" stroke-linecap="butt"/>
<g transform="translate(580.50 670.60) rotate(90.00) scale(0.9390 1) translate(-3.32 0)" fill="#000"><path d="M9.28,-36.27 L16.45,-36.27 L16.45,0.00 L9.28,0.00 L9.28,-31.63 L3.32,-26.62 L3.32,-31.63 L8.75,-36.27 Z"/><text y="0" font-weight="700" font-size="52.72"><tspan x="29.32">0</tspan></text></g>
<path transform="translate(580.50 670.60) rotate(90.00) translate(54.40 2.30)" d="M25.41,-21.40 A12.94,12.88 0 1 0 25.41,-7.00 M35.09,0 L35.09,-28.40 M35.09,-14.77 C35.09,-21.42 39.05,-26.65 44.10,-26.65 C49.14,-26.65 53.10,-21.42 53.10,-14.77 L53.10,0 M53.10,-14.77 C53.10,-21.42 57.23,-26.65 62.48,-26.65 C67.73,-26.65 71.85,-21.42 71.85,-14.77 L71.85,0" fill="none" stroke="#000" stroke-width="3.50" stroke-linecap="butt"/>
<g transform="translate(1236.80 719.50) rotate(1.20) scale(0.9220 1) translate(-3.34 0)" fill="#000"><path d="M9.33,-36.47 L16.54,-36.47 L16.54,0.00 L9.33,0.00 L9.33,-31.81 L3.34,-26.77 L3.34,-31.81 L8.80,-36.47 Z"/><text y="0" font-weight="700" font-size="53.01"><tspan x="29.48">0</tspan><tspan x="58.96">4</tspan></text></g>
<path transform="translate(1236.80 719.50) rotate(1.20) translate(82.40 0.00)" d="M25.56,-21.08 A13.02,12.67 0 1 0 25.56,-6.92 M35.27,0 L35.27,-28.00 M35.27,-14.56 C35.27,-21.11 39.26,-26.25 44.33,-26.25 C49.40,-26.25 53.39,-21.11 53.39,-14.56 L53.39,0 M53.39,-14.56 C53.39,-21.11 57.54,-26.25 62.82,-26.25 C68.10,-26.25 72.25,-21.11 72.25,-14.56 L72.25,0" fill="none" stroke="#000" stroke-width="3.50" stroke-linecap="butt"/>
<g transform="translate(1616.25 725.50) rotate(0.00) scale(0.9926 1) translate(-1.63 0)" fill="#000"><text y="0" font-weight="700" font-size="50.86"><tspan x="0.00">8</tspan><tspan x="28.29">2</tspan></text></g>
<path transform="translate(1616.25 725.50) rotate(0.00) translate(57.50 0.00)" d="M25.47,-20.10 A12.97,12.03 0 1 0 25.47,-6.65 M35.16,0 L35.16,-26.75 M35.16,-13.91 C35.16,-20.12 39.13,-25.00 44.18,-25.00 C49.24,-25.00 53.21,-20.12 53.21,-13.91 L53.21,0 M53.21,-13.91 C53.21,-20.12 57.34,-25.00 62.61,-25.00 C67.87,-25.00 72.00,-20.12 72.00,-13.91 L72.00,0" fill="none" stroke="#000" stroke-width="3.50" stroke-linecap="butt"/>
<g transform="translate(1254.20 817.50) rotate(0.00) scale(0.9755 1) translate(-1.88 0)" fill="#000"><path fill-rule="evenodd" d="M1.78,-11.70 A12.31,12.21 0 1 0 26.40,-11.70 A12.31,12.21 0 1 0 1.78,-11.70 Z M8.49,-11.70 A5.59,5.70 0 1 1 19.68,-11.70 A5.59,5.70 0 1 1 8.49,-11.70 Z"/><path d="M1.78,-11.19 L11.44,-35.50 L18.87,-35.50 L8.09,-13.83 Z"/><text y="0" font-weight="700" font-size="50.86"><tspan x="28.29">0</tspan></text></g>
<path transform="translate(1254.20 817.50) rotate(0.00) translate(55.40 0.00)" d="M24.90,-20.30 A12.66,12.16 0 1 0 24.90,-6.70 M34.46,0 L34.46,-27.00 M34.46,-14.04 C34.46,-20.32 38.34,-25.25 43.27,-25.25 C48.21,-25.25 52.09,-20.32 52.09,-14.04 L52.09,0 M52.09,-14.04 C52.09,-20.32 56.13,-25.25 61.27,-25.25 C66.41,-25.25 70.45,-20.32 70.45,-14.04 L70.45,0" fill="none" stroke="#000" stroke-width="3.50" stroke-linecap="butt"/>
<g transform="translate(1136.00 932.00) rotate(5.00) scale(0.9433 1) translate(-2.16 0)" fill="#000"><path d="M2.16,-34.50 L25.67,-34.50 L25.67,-29.99 L10.63,0.00 L2.91,0.00 L17.65,-28.98 L2.16,-28.98 Z"/><text y="0" font-weight="700" font-size="50.14"><tspan x="27.89">8</tspan></text></g>
<path transform="translate(1136.00 932.00) rotate(5.00) translate(54.60 0.00)" d="M24.46,-20.30 A12.42,12.16 0 1 0 24.46,-6.70 M33.91,0 L33.91,-27.00 M33.91,-14.04 C33.91,-20.32 37.72,-25.25 42.57,-25.25 C47.42,-25.25 51.23,-20.32 51.23,-14.04 L51.23,0 M51.23,-14.04 C51.23,-20.32 55.19,-25.25 60.24,-25.25 C65.28,-25.25 69.25,-20.32 69.25,-14.04 L69.25,0" fill="none" stroke="#000" stroke-width="3.50" stroke-linecap="butt"/>
<g transform="translate(1268.60 1017.50) rotate(-5.00) scale(0.9524 1) translate(-3.11 0)" fill="#000"><path d="M8.70,-34.00 L15.42,-34.00 L15.42,0.00 L8.70,0.00 L8.70,-29.65 L3.11,-24.96 L3.11,-29.65 L8.20,-34.00 Z"/><path d="M29.61,-34.00 L52.79,-34.00 L52.79,-29.55 L37.96,0.00 L30.35,0.00 L44.88,-28.56 L29.61,-28.56 Z"/></g>
<path transform="translate(1268.60 1017.50) rotate(-5.00) translate(51.60 0.00)" d="M24.79,-19.51 A12.60,11.64 0 1 0 24.79,-6.49 M34.32,0 L34.32,-26.00 M34.32,-13.52 C34.32,-19.53 38.18,-24.25 43.10,-24.25 C48.01,-24.25 51.88,-19.53 51.88,-13.52 L51.88,0 M51.88,-13.52 C51.88,-19.53 55.90,-24.25 61.01,-24.25 C66.13,-24.25 70.15,-19.53 70.15,-13.52 L70.15,0" fill="none" stroke="#000" stroke-width="3.50" stroke-linecap="butt"/>
<g transform="translate(1359.50 1072.00) rotate(-2.00) scale(1.0287 1) translate(-2.06 0)" fill="#000"><path d="M2.06,-33.02 L24.57,-33.02 L24.57,-28.70 L10.17,0.00 L2.78,0.00 L16.89,-27.74 L2.06,-27.74 Z"/><text y="0" font-weight="700" font-size="47.99"><tspan x="26.69">3</tspan></text></g>
<path transform="translate(1359.50 1072.00) rotate(-2.00) translate(54.50 0.00)" d="M24.94,-19.04 A12.68,11.33 0 1 0 24.94,-6.36 M34.50,0 L34.50,-25.40 M34.50,-13.21 C34.50,-19.06 38.39,-23.65 43.33,-23.65 C48.28,-23.65 52.16,-19.06 52.16,-13.21 L52.16,0 M52.16,-13.21 C52.16,-19.06 56.21,-23.65 61.36,-23.65 C66.51,-23.65 70.55,-19.06 70.55,-13.21 L70.55,0" fill="none" stroke="#000" stroke-width="3.50" stroke-linecap="butt"/>
<g transform="translate(1458.40 1016.30) rotate(19.00) scale(0.8911 1) translate(-0.76 0)" fill="#000"><text y="0" font-weight="700" font-size="50.87"><tspan x="0.00">4</tspan><tspan x="28.29">4</tspan></text></g>
<path transform="translate(1458.40 1016.30) rotate(19.00) translate(58.00 0.00)" d="M24.83,-20.30 A12.62,12.16 0 1 0 24.83,-6.70 M34.37,0 L34.37,-27.00 M34.37,-14.04 C34.37,-20.32 38.23,-25.25 43.16,-25.25 C48.08,-25.25 51.95,-20.32 51.95,-14.04 L51.95,0 M51.95,-14.04 C51.95,-20.32 55.97,-25.25 61.10,-25.25 C66.22,-25.25 70.25,-20.32 70.25,-14.04 L70.25,0" fill="none" stroke="#000" stroke-width="3.50" stroke-linecap="butt"/>
<g transform="translate(1419.50 850.00) rotate(82.00) scale(0.9788 1) translate(-1.60 0)" fill="#000"><text y="0" font-weight="700" font-size="51.58"><tspan x="0.00">5</tspan><tspan x="28.68">0</tspan></text></g>
<path transform="translate(1419.50 850.00) rotate(82.00) translate(55.00 0.00)" d="M25.19,-20.30 A12.82,12.16 0 1 0 25.19,-6.70 M34.82,0 L34.82,-27.00 M34.82,-14.04 C34.82,-20.32 38.75,-25.25 43.74,-25.25 C48.74,-25.25 52.67,-20.32 52.67,-14.04 L52.67,0 M52.67,-14.04 C52.67,-20.32 56.76,-25.25 61.96,-25.25 C67.16,-25.25 71.25,-20.32 71.25,-14.04 L71.25,0" fill="none" stroke="#000" stroke-width="3.50" stroke-linecap="butt"/>
<g transform="translate(1589.00 1115.00) rotate(90.00) scale(0.9001 1) translate(-0.76 0)" fill="#000"><text y="0" font-weight="700" font-size="50.87"><tspan x="0.00">4</tspan><tspan x="28.29">4</tspan></text></g>
<path transform="translate(1589.00 1115.00) rotate(90.00) translate(60.00 0.00)" d="M23.64,-20.69 A11.97,12.41 0 1 0 23.64,-6.81 M32.89,0 L32.89,-27.50 M32.89,-14.30 C32.89,-20.71 36.57,-25.75 41.25,-25.75 C45.93,-25.75 49.60,-20.71 49.60,-14.30 L49.60,0 M49.60,-14.30 C49.60,-20.71 53.43,-25.75 58.30,-25.75 C63.17,-25.75 67.00,-20.71 67.00,-14.30 L67.00,0" fill="none" stroke="#000" stroke-width="3.50" stroke-linecap="butt"/>
<g transform="translate(982.50 1053.60) rotate(-90.00) scale(0.8765 1) translate(-1.87 0)" fill="#000"><path fill-rule="evenodd" d="M27.66,-24.41 A12.90,12.79 0 1 0 1.87,-24.41 A12.90,12.79 0 1 0 27.66,-24.41 Z M20.63,-24.41 A5.86,5.97 0 1 1 8.90,-24.41 A5.86,5.97 0 1 1 20.63,-24.41 Z"/><path d="M27.66,-24.94 L17.53,0.53 L9.75,0.53 L21.05,-22.17 Z"/><text y="0" font-weight="700" font-size="53.30"><tspan x="29.64">5</tspan></text></g>
<path transform="translate(982.50 1053.60) rotate(-90.00) translate(54.20 1.60)" d="M24.76,-20.61 A12.58,12.36 0 1 0 24.76,-6.79 M34.28,0 L34.28,-27.40 M34.28,-14.25 C34.28,-20.63 38.13,-25.65 43.04,-25.65 C47.95,-25.65 51.80,-20.63 51.80,-14.25 L51.80,0 M51.80,-14.25 C51.80,-20.63 55.82,-25.65 60.93,-25.65 C66.04,-25.65 70.05,-20.63 70.05,-14.25 L70.05,0" fill="none" stroke="#000" stroke-width="3.50" stroke-linecap="butt"/>
<g transform="translate(1047.10 1054.20) rotate(-90.00) scale(0.9009 1) translate(-2.29 0)" fill="#000"><path d="M2.29,-36.67 L27.29,-36.67 L27.29,-31.87 L11.30,0.00 L3.09,0.00 L18.76,-30.80 L2.29,-30.80 Z"/><text y="0" font-weight="700" font-size="53.30"><tspan x="29.64">3</tspan></text></g>
<path transform="translate(1047.10 1054.20) rotate(-90.00) translate(56.40 1.60)" d="M24.17,-21.01 A12.26,12.62 0 1 0 24.17,-6.89 M33.55,0 L33.55,-27.90 M33.55,-14.51 C33.55,-21.03 37.31,-26.15 42.10,-26.15 C46.89,-26.15 50.65,-21.03 50.65,-14.51 L50.65,0 M50.65,-14.51 C50.65,-21.03 54.57,-26.15 59.55,-26.15 C64.53,-26.15 68.45,-21.03 68.45,-14.51 L68.45,0" fill="none" stroke="#000" stroke-width="3.50" stroke-linecap="butt"/>
<g transform="translate(1217.50 1157.50) rotate(-90.00) scale(0.9387 1) translate(-1.67 0)" fill="#000"><text y="0" font-weight="700" font-size="53.72"><tspan x="0.00">5</tspan><tspan x="29.88">2</tspan></text></g>
<path transform="translate(1217.50 1157.50) rotate(-90.00) translate(57.50 2.50)" d="M24.56,-21.08 A12.47,12.67 0 1 0 24.56,-6.92 M34.03,0 L34.03,-28.00 M34.03,-14.56 C34.03,-21.11 37.85,-26.25 42.72,-26.25 C47.58,-26.25 51.41,-21.11 51.41,-14.56 L51.41,0 M51.41,-14.56 C51.41,-21.11 55.39,-26.25 60.45,-26.25 C65.52,-26.25 69.50,-21.11 69.50,-14.56 L69.50,0" fill="none" stroke="#000" stroke-width="3.50" stroke-linecap="butt"/>
<g transform="translate(1468.50 1288.50) rotate(90.00) scale(0.9596 1) translate(-3.16 0)" fill="#000"><path d="M8.83,-34.50 L15.64,-34.50 L15.64,0.00 L8.83,0.00 L8.83,-30.09 L3.16,-25.32 L3.16,-30.09 L8.32,-34.50 Z"/><text y="0" font-weight="700" font-size="50.14"><tspan x="27.89">0</tspan></text></g>
<path transform="translate(1468.50 1288.50) rotate(90.00) translate(53.00 -1.50)" d="M25.01,-19.90 A12.72,11.90 0 1 0 25.01,-6.60 M34.59,0 L34.59,-26.50 M34.59,-13.78 C34.59,-19.92 38.49,-24.75 43.45,-24.75 C48.41,-24.75 52.31,-19.92 52.31,-13.78 L52.31,0 M52.31,-13.78 C52.31,-19.92 56.37,-24.75 61.53,-24.75 C66.69,-24.75 70.75,-19.92 70.75,-13.78 L70.75,0" fill="none" stroke="#000" stroke-width="3.50" stroke-linecap="butt"/>
</svg>
</body></html>
